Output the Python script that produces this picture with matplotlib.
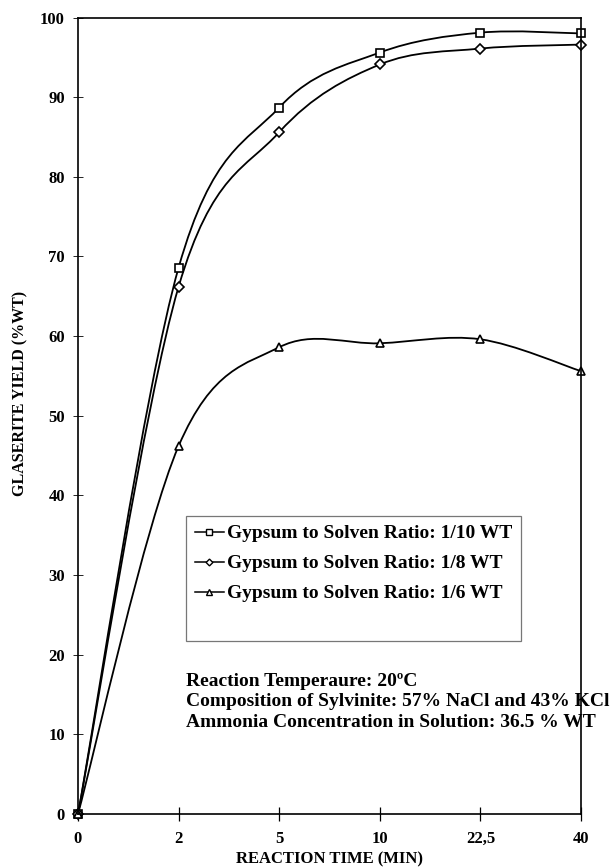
import numpy as np
import matplotlib
matplotlib.use("Agg")
import matplotlib.pyplot as plt
from matplotlib.path import Path
from matplotlib.patches import PathPatch
from matplotlib.lines import Line2D

plt.rcParams['font.family'] = ['Liberation Serif', 'DejaVu Serif']
plt.rcParams['font.weight'] = 'bold'

times = ["0", "2", "5", "10", "22,5", "40"]
ratio_10 = [0.0, 68.6, 88.7, 95.6, 98.1, 98.0]
ratio_8 = [0.0, 66.2, 85.6, 94.1, 96.1, 96.6]
ratio_6 = [0.0, 46.2, 58.6, 59.1, 59.6, 55.6]
labels = ["Gypsum to Solven Ratio: 1/10 WT",
          "Gypsum to Solven Ratio: 1/8 WT",
          "Gypsum to Solven Ratio: 1/6 WT"]
markers = ['s', 'D', '^']
msizes = [6, 4.6, 5.5]
notes = ["Reaction Temperaure: 20ºC",
         "Composition of Sylvinite: 57% NaCl and 43% KCl",
         "Ammonia Concentration in Solution: 36.5 % WT"]

W, H = 613, 868
AX_L, AX_R, AX_T, AX_B = 78, 581, 17.5, 814
fig = plt.figure(figsize=(W / 100, H / 100), dpi=100)
ax = fig.add_axes([AX_L / W, (H - AX_B) / H, (AX_R - AX_L) / W, (AX_B - AX_T) / H])


def ax_x(px):
    return (px - AX_L) / (AX_R - AX_L)


def ax_y(py):
    return (AX_B - py) / (AX_B - AX_T)


xs = np.arange(len(times), dtype=float)


def smooth_path(x, y):
    pts = np.column_stack([x, y])
    verts = [pts[0]]
    codes = [Path.MOVETO]
    n = len(pts)
    for i in range(n - 1):
        p0 = pts[i - 1] if i > 0 else pts[i]
        p1 = pts[i]
        p2 = pts[i + 1]
        p3 = pts[i + 2] if i + 2 < n else pts[i + 1]
        c1 = p1 + (p2 - p0) / 6.0
        c2 = p2 - (p3 - p1) / 6.0
        verts += [c1, c2, p2]
        codes += [Path.CURVE4] * 3
    return Path(verts, codes)


handles = []
for vals, m, ms, lab in zip([ratio_10, ratio_8, ratio_6], markers, msizes, labels):
    patch = PathPatch(smooth_path(xs, np.array(vals)), facecolor='none',
                      edgecolor='black', lw=1.3, zorder=2)
    ax.add_patch(patch)
    ax.plot(xs, vals, linestyle='none', marker=m, ms=ms, mfc='white',
            mec='black', mew=1.2, zorder=3, clip_on=False)
    handles.append(Line2D([0], [0], color='black', lw=1.1, marker=m,
                          ms=ms * 0.75, mfc='white', mec='black', mew=1.0))

handles.append(Line2D([0], [0], color='none'))
leg = ax.legend(handles, labels + [" "], loc='upper left',
                bbox_to_anchor=(ax_x(186), ax_y(516)),
                frameon=True, fancybox=False, edgecolor='#555555',
                prop={'family': 'Liberation Serif', 'weight': 'bold', 'size': 14},
                handlelength=1.5, handletextpad=0.15, labelspacing=0.64,
                borderpad=0.45, borderaxespad=0)
leg.get_frame().set_linewidth(0.9)

baselines = [686, 706.5, 727]
for t, b in zip(notes, baselines):
    ax.text(ax_x(186), ax_y(b), t,
            transform=ax.transAxes, fontsize=14, fontweight='bold',
            ha='left', va='baseline', clip_on=False, zorder=1)

ax.set_xlim(0, len(times) - 1)
ax.set_ylim(0, 100)
ax.set_xticks(xs)
ax.set_xticklabels(times)
ax.set_yticks(np.arange(0, 101, 10))
ax.tick_params(axis='x', direction='inout', length=10, width=0.9, pad=7, labelsize=12)
ax.tick_params(axis='y', direction='inout', length=7, width=0.6, pad=6, labelsize=12)
for s in ax.spines.values():
    s.set_linewidth(1.2)
    s.set_zorder(5)
ax.set_xlabel("REACTION TIME (MIN)", fontsize=12, fontweight='bold')
ax.set_ylabel("GLASERITE YIELD (%WT)", fontsize=11.5, fontweight='bold')
ax.xaxis.set_label_coords(0.5, ax_y(851))
ax.yaxis.set_label_coords(ax_x(28), ax_y(393))

fig.savefig("out.png", dpi=100)
